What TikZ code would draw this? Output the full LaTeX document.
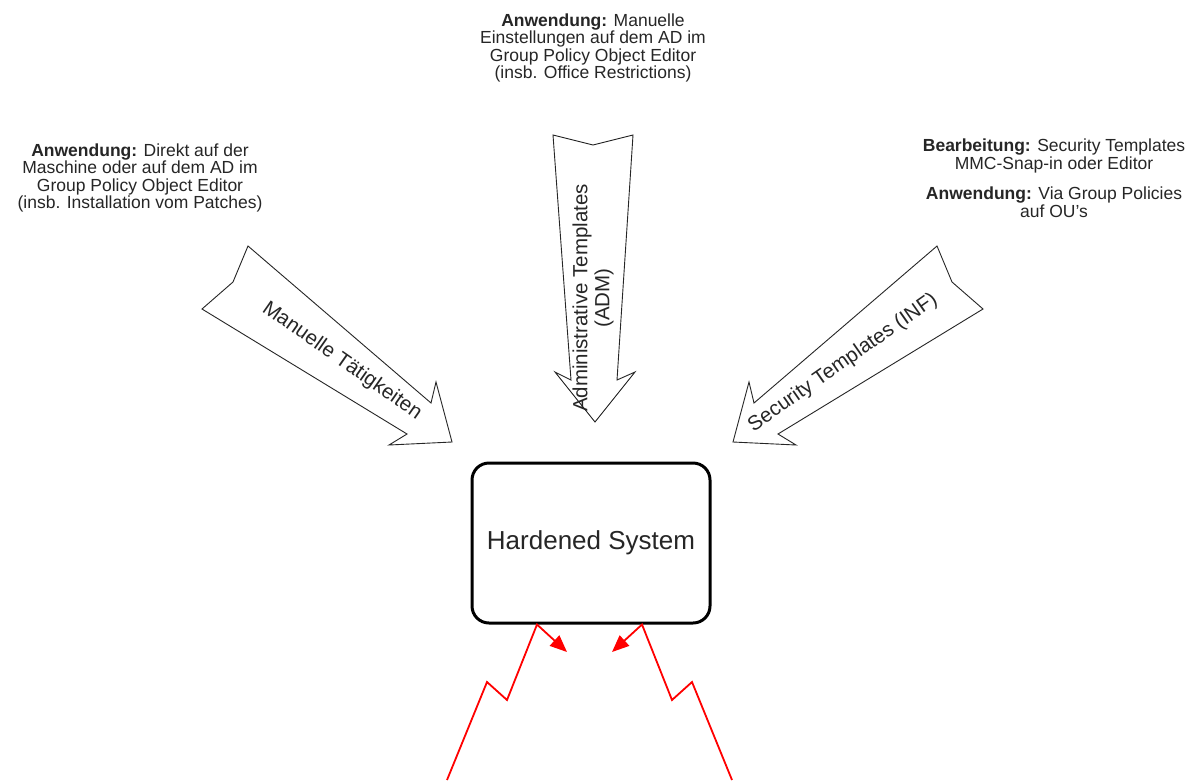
\documentclass[tikz,border=0pt]{standalone}
\usepackage{fontspec}
\setmainfont{Liberation Sans}
\usetikzlibrary{arrows.meta,calc}
\begin{document}
\begin{tikzpicture}[x=1pt,y=-1pt,
  blockarrow/.style={draw=black!85, line width=0.9pt, fill=white, line join=miter},
  note/.style={align=center, font=\fontsize{17.5}{17.6}\selectfont, inner sep=0pt, text=black!85},
  arrowlabel/.style={align=center, font=\fontsize{20.5}{22}\selectfont, inner sep=0pt, text=black!85},
  system/.style={draw, line width=3pt, rounded corners=17pt, minimum width=238pt, minimum height=160pt, fill=white, font=\fontsize{26}{30}\selectfont, text=black!85},
  bolt/.style={draw=red, line width=1.8pt, line join=miter, -{Triangle[length=17pt,width=14pt]}}]
\useasboundingbox (0,0) rectangle (1190,780);
\fill[white] (0,0) rectangle (1190,780);

% annotation texts
\node[note] (noteleft) at (140,178) {\textbf{Anwendung:} Direkt auf der\\Maschine oder auf dem AD im\\Group Policy Object Editor\\(insb. Installation vom Patches)};
\node[note] (notetop) at (593,48) {\textbf{Anwendung:} Manuelle\\Einstellungen auf dem AD im\\Group Policy Object Editor\\(insb. Office Restrictions)};
\node[note] (noterighta) at (1054,156) {\textbf{Bearbeitung:} Security Templates\\MMC-Snap-in oder Editor};
\node[note] (noterightb) at (1054,202) {\textbf{Anwendung:} Via Group Policies\\auf OU's};

% block arrows
\draw[blockarrow] (248,246) -- (233,282) -- (202,309) -- (407,434) -- (389,445) -- (452,442) -- (436,382) -- (431,403) -- cycle;
\draw[blockarrow] (937,246) -- (952,282) -- (983,309) -- (778,434) -- (796,445) -- (733,442) -- (749,382) -- (754,403) -- cycle;
\draw[blockarrow] (553,135) -- (593,145) -- (633,135) -- (617,380) -- (635,372) -- (595,422) -- (555,372) -- (571,380) -- cycle;

\node[arrowlabel, rotate=-35] (lblleft) at (342,361) {Manuelle Tätigkeiten};
\node[arrowlabel, rotate=35] (lblright) at (843,363) {Security Templates (INF)};
\node[arrowlabel, rotate=90] (lbltop) at (593,298) {Administrative Templates\\(ADM)};

% hardened system
\node[system] (sys) at (591,543) {Hardened System};

% lightning connectors
\coordinate (bl0) at (447,780);
\coordinate (bl1) at (487,682);
\coordinate (bl2) at (507,700);
\coordinate (bl3) at ($(sys.south)+(-54,0)$);
\coordinate (bl4) at (567,652);
\coordinate (br0) at (732,780);
\coordinate (br1) at (692,682);
\coordinate (br2) at (672,700);
\coordinate (br3) at ($(sys.south)+(51,0)$);
\coordinate (br4) at (612,652);
\draw[bolt] (bl0) -- (bl1) -- (bl2) -- (bl3) -- (bl4);
\draw[bolt] (br0) -- (br1) -- (br2) -- (br3) -- (br4);
\end{tikzpicture}
\end{document}
